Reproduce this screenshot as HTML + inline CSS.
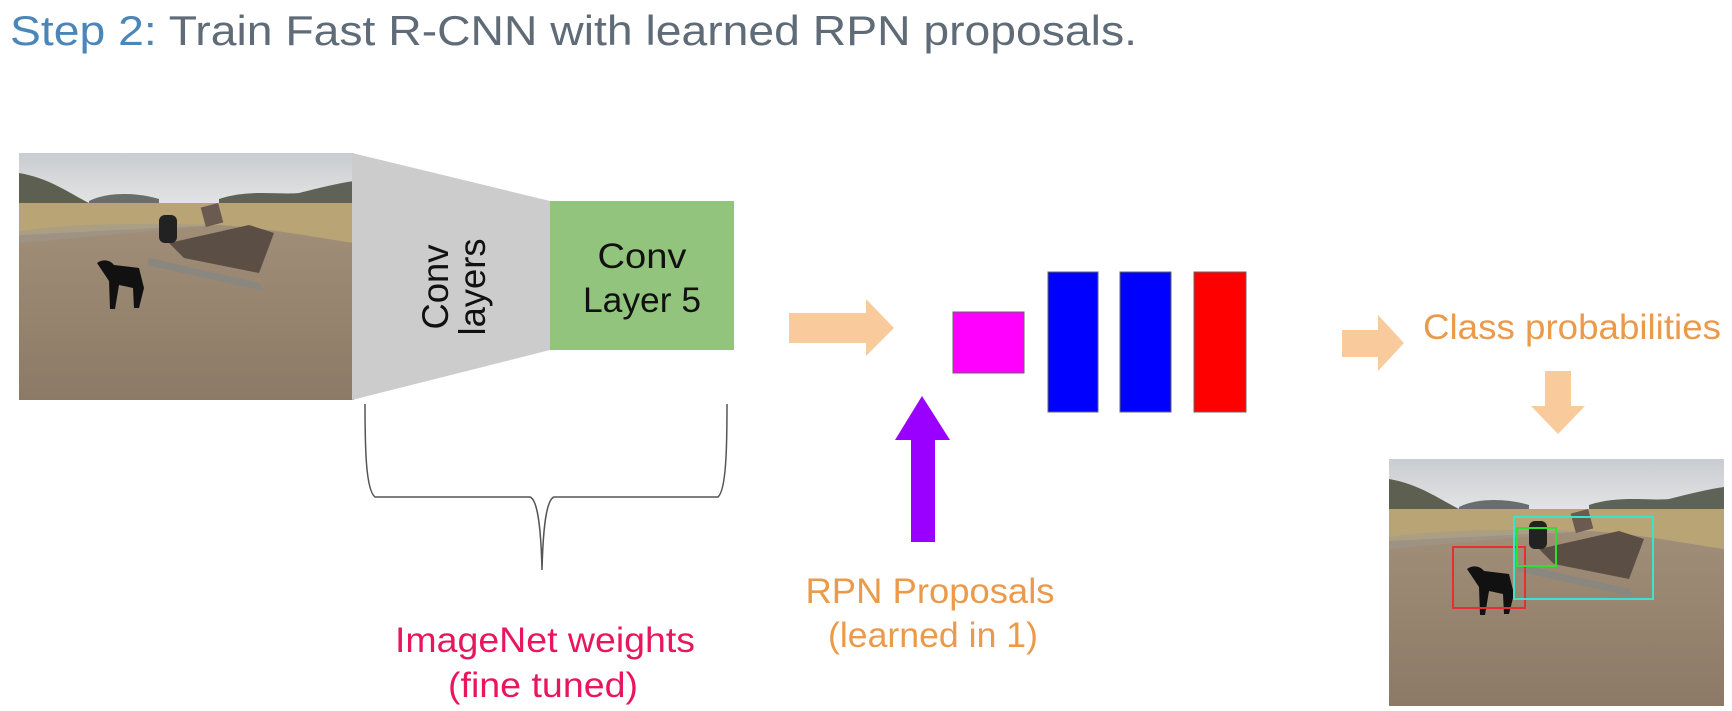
<!DOCTYPE html>
<html><head><meta charset="utf-8"><style>
html,body{margin:0;padding:0;background:#fff;width:1732px;height:711px;overflow:hidden}
svg{display:block}
text{font-family:"Liberation Sans",sans-serif}
</style></head><body>
<svg width="1732" height="711" viewBox="0 0 1732 711" xmlns="http://www.w3.org/2000/svg">
<defs>
<linearGradient id="dirt" x1="0" y1="0" x2="0" y2="1">
<stop offset="0" stop-color="#a89680"/><stop offset="1" stop-color="#8c7a66"/></linearGradient>
<linearGradient id="sky" x1="0" y1="0" x2="0" y2="1">
<stop offset="0" stop-color="#c9ccd0"/><stop offset="1" stop-color="#e2e3e4"/></linearGradient>
<g id="photo">
<rect x="0" y="0" width="335" height="247" fill="url(#dirt)"/>
<rect x="0" y="0" width="335" height="50" fill="url(#sky)"/>
<path d="M0,20 C30,25 50,40 70,50 L0,50 Z" fill="#5d5f50"/>
<path d="M70,48 C90,38 120,40 140,46 L140,50 L70,50Z" fill="#6a6e6a"/>
<path d="M200,46 C230,36 260,42 280,40 C300,35 320,30 335,28 L335,55 L200,55Z" fill="#5f6257"/>
<path d="M0,50 L335,50 L335,90 C300,85 250,75 200,72 L0,82 Z" fill="#b9a476"/>
<path d="M0,78 C60,70 120,70 200,72 L0,90Z" fill="#9d9a8f" opacity="0.5"/>
<path d="M150,90 L230,72 L255,80 L240,120 L165,105 Z" fill="#5b4e45"/>
<path d="M130,105 L240,130 L245,138 L128,112 Z" fill="#8a8680"/>
<rect x="140" y="62" width="18" height="28" fill="#222" rx="6"/>
<path d="M78,110 C85,105 92,108 95,112 L120,115 L125,135 L120,155 L115,155 L114,135 L100,132 L96,156 L91,156 L90,128 Z" fill="#111"/>
<rect x="184" y="52" width="18" height="20" fill="#6a5a50" transform="rotate(-15 193 62)"/>
</g>
</defs>

<text x="10" y="45" font-size="42" textLength="1127" lengthAdjust="spacingAndGlyphs"><tspan fill="#4a86b8">Step 2:</tspan><tspan fill="#5f6b77"> Train Fast R-CNN with learned RPN proposals.</tspan></text>

<use href="#photo" x="19" y="153"/>
<polygon points="352,153 550,201 550,350 352,400" fill="#cccccc"/>
<text transform="translate(448,287) rotate(-90)" font-size="37" text-anchor="middle" fill="#111" textLength="85" lengthAdjust="spacingAndGlyphs">Conv</text>
<text transform="translate(485,287) rotate(-90)" font-size="37" text-anchor="middle" fill="#111" textLength="97" lengthAdjust="spacingAndGlyphs">layers</text>
<rect x="550" y="201" width="184" height="149" fill="#93c47d"/>
<text x="642" y="268" font-size="35" text-anchor="middle" fill="#111" textLength="89" lengthAdjust="spacingAndGlyphs">Conv</text>
<text x="642" y="312" font-size="35" text-anchor="middle" fill="#111" textLength="118" lengthAdjust="spacingAndGlyphs">Layer 5</text>

<path d="M365,404 C365,450 366,490 375,497 L530,497 C538,500 541,530 542,570 C543,530 546,500 554,497 L718,497 C726,490 727,450 727,404" fill="none" stroke="#555" stroke-width="1.5"/>

<polygon points="789,313 866,313 866,299 894,328 866,356 866,343 789,343" fill="#f9cb9c"/>
<rect x="953" y="312" width="71" height="61" fill="#ff00ff" stroke="#666" stroke-width="1"/>
<rect x="1048" y="272" width="50" height="140" fill="#0000ff" stroke="#666" stroke-width="1"/>
<rect x="1120" y="272" width="51" height="140" fill="#0000ff" stroke="#666" stroke-width="1"/>
<rect x="1194" y="272" width="52" height="140" fill="#ff0000" stroke="#666" stroke-width="1"/>

<polygon points="922,396 950,440 935,440 935,542 911,542 911,440 895,440" fill="#9900ff"/>
<text x="930" y="603" font-size="35" text-anchor="middle" fill="#eb9a4a" textLength="249" lengthAdjust="spacingAndGlyphs">RPN Proposals</text>
<text x="933" y="647" font-size="35" text-anchor="middle" fill="#eb9a4a" textLength="210" lengthAdjust="spacingAndGlyphs">(learned in 1)</text>
<text x="545" y="652" font-size="35" text-anchor="middle" fill="#e8175d" textLength="300" lengthAdjust="spacingAndGlyphs">ImageNet weights</text>
<text x="543" y="697" font-size="35" text-anchor="middle" fill="#e8175d" textLength="190" lengthAdjust="spacingAndGlyphs">(fine tuned)</text>

<polygon points="1342,330 1378,330 1378,315 1404,343 1378,371 1378,357 1342,357" fill="#f9cb9c"/>
<text x="1423" y="339" font-size="35" fill="#eb9a4a" textLength="298" lengthAdjust="spacingAndGlyphs">Class probabilities</text>
<polygon points="1545,371 1571,371 1571,406 1585,406 1558,434 1531,406 1545,406" fill="#f9cb9c"/>

<use href="#photo" x="1389" y="459"/>
<rect x="1453" y="547" width="72" height="61" fill="none" stroke="#e53030" stroke-width="2"/>
<rect x="1514" y="517" width="139" height="82" fill="none" stroke="#40e0d0" stroke-width="2"/>
<rect x="1517" y="528" width="39" height="38" fill="none" stroke="#30e030" stroke-width="2"/>
</svg>
</body></html>
